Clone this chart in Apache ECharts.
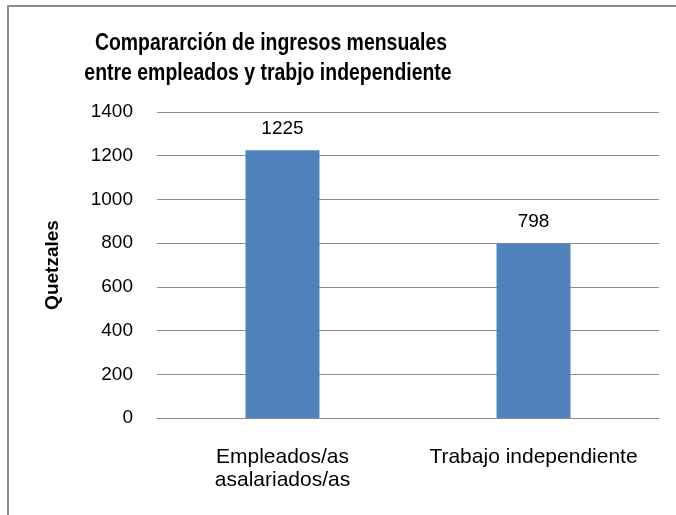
<!DOCTYPE html>
<html>
<head>
<meta charset="utf-8">
<script src="https://cdn.jsdelivr.net/npm/echarts@6/dist/echarts.min.js"></script>
<style>
html,body{margin:0;padding:0;background:#fff;}
#chart{width:676px;height:515px;}
</style>
</head>
<body>
<div id="chart"></div>
<script>
var categories = ['Empleados/as\nasalariados/as', 'Trabajo independiente'];
var values = [1225, 798];
var yTicks = [0, 200, 400, 600, 800, 1000, 1200, 1400];
var titleLines = ['Compararción de ingresos mensuales', 'entre empleados y trabjo independiente'];
var yName = 'Quetzales';

var chart = echarts.init(document.getElementById('chart'));
var font = '"Liberation Sans", Arial, sans-serif';
chart.setOption({
  animation: false,
  backgroundColor: '#fff',
  graphic: [
    {type: 'rect', shape: {x: 8, y: 6, width: 800, height: 700}, style: {fill: 'none', stroke: '#8c8c8c', lineWidth: 2}, silent: true},
    {type: 'text', x: 271, y: 43, scaleX: 0.81, style: {text: titleLines[0], font: 'bold 24px ' + font, fill: '#000', textAlign: 'center', textVerticalAlign: 'middle'}},
    {type: 'text', x: 268, y: 73, scaleX: 0.81, style: {text: titleLines[1], font: 'bold 24px ' + font, fill: '#000', textAlign: 'center', textVerticalAlign: 'middle'}}
  ],
  grid: {left: 157, right: 17, top: 112, bottom: 97, containLabel: false},
  xAxis: {
    type: 'category',
    data: categories,
    axisLine: {show: true, lineStyle: {color: '#8c8c8c', width: 1}},
    axisTick: {show: false},
    axisLabel: {interval: 0, hideOverlap: false, fontFamily: font, fontSize: 21, color: '#000', lineHeight: 23, margin: 28}
  },
  yAxis: {
    type: 'value',
    min: yTicks[0], max: yTicks[yTicks.length - 1], interval: 200,
    name: yName,
    nameLocation: 'middle',
    nameGap: 95,
    nameTextStyle: {fontFamily: font, fontWeight: 'bold', fontSize: 19, color: '#000'},
    axisLine: {show: false},
    axisTick: {show: false},
    axisLabel: {fontFamily: font, fontSize: 19, color: '#000', margin: 24, formatter: function (v) { return String(v); }},
    splitLine: {lineStyle: {color: '#8c8c8c', width: 1}}
  },
  series: [{
    type: 'bar',
    data: values,
    barWidth: 74,
    itemStyle: {color: '#4F81BD'},
    label: {show: true, position: 'top', distance: 12, fontFamily: font, fontSize: 19, color: '#000'}
  }]
});
</script>
</body>
</html>
